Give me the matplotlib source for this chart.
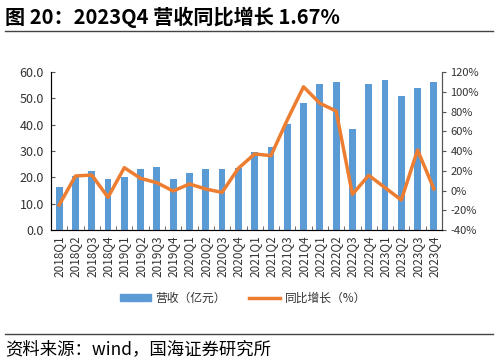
import numpy as np
import matplotlib
matplotlib.use("Agg")
import matplotlib.pyplot as plt
from matplotlib.lines import Line2D
from matplotlib.patches import Patch

plt.rcParams['font.family'] = ['Noto Sans CJK SC', 'DejaVu Sans']

quarters = ["2018Q1", "2018Q2", "2018Q3", "2018Q4", "2019Q1", "2019Q2", "2019Q3", "2019Q4",
            "2020Q1", "2020Q2", "2020Q3", "2020Q4", "2021Q1", "2021Q2", "2021Q3", "2021Q4",
            "2022Q1", "2022Q2", "2022Q3", "2022Q4", "2023Q1", "2023Q2", "2023Q3", "2023Q4"]
revenue = [16.4, 20.5, 22.4, 19.4, 20.3, 23.0, 23.9, 19.4,
           21.6, 23.3, 23.3, 23.7, 29.6, 31.4, 40.1, 48.1,
           55.4, 56.2, 38.5, 55.4, 57.0, 50.9, 53.9, 56.2]
yoy = [-14.7, 14.7, 15.7, -6.9, 23.1, 12.3, 7.9, -0.5,
       6.6, 1.5, -1.9, 22.5, 37.0, 35.3, 71.4, 105.0,
       88.3, 80.5, -3.9, 15.4, 2.9, -9.6, 41.0, 1.67]

fig = plt.figure(figsize=(4.98, 3.62), dpi=100)
ax = fig.add_axes([0.1024, 0.3646, 0.7852, 0.4365])
x = np.arange(len(quarters))
ax.bar(x, revenue, width=0.42, color="#5B9BD5", zorder=2)
ax.set_xlim(-0.5, len(quarters) - 0.5)
ax.set_ylim(0, 60)
ax.set_yticks(np.arange(0, 61, 10))
ax.set_yticklabels(["%.1f" % v for v in np.arange(0, 61, 10)], fontsize=9, color="#333333")
ax.set_xticks(x)
ax.set_xticklabels(quarters, rotation=90, fontsize=8.5, color="#333333")
ax.set_xticks(np.arange(-0.5, len(quarters), 1), minor=True)
ax.tick_params(axis="x", which="major", length=0, pad=4)
ax.tick_params(axis="x", which="minor", length=3, direction="in", color="#555555")
ax.tick_params(axis="y", length=3, direction="in", color="#555555", pad=5)
ax.spines["top"].set_visible(False)
for s in ["left", "bottom", "right"]:
    ax.spines[s].set_color("#555555")

ax2 = ax.twinx()
ax2.plot(x, yoy, color="#ED7D31", linewidth=2.5, zorder=3)
ax2.set_ylim(-40, 120)
ax2.set_yticks(np.arange(-40, 121, 20))
ax2.set_yticklabels(["%d%%" % v for v in np.arange(-40, 121, 20)], fontsize=8, color="#333333")
ax2.tick_params(axis="y", length=3, direction="out", color="#555555", pad=3)
ax2.spines["top"].set_visible(False)
ax2.spines["right"].set_color("#555555")

handles = [Patch(color="#5B9BD5"), Line2D([0], [0], color="#ED7D31", linewidth=2.5)]
fig.legend(handles, ["营收（亿元）", "同比增长（%）"], loc="center", bbox_to_anchor=(0.488, 0.177),
           ncol=2, frameon=False, fontsize=8.5, handlelength=2.6, handleheight=0.5,
           columnspacing=2.0, handletextpad=0.4, labelcolor="#333333")

fig.text(0.01, 0.952, "图 20：2023Q4 营收同比增长 1.67%", fontsize=14.5, fontweight="bold",
         va="center", ha="left")
fig.add_artist(Line2D([0.01, 0.99], [0.915, 0.915], color="#444444", linewidth=1))
fig.add_artist(Line2D([0.01, 0.99], [0.077, 0.077], color="#444444", linewidth=1))
fig.text(0.01, 0.035, "资料来源：wind，国海证券研究所", fontsize=12.5, va="center", ha="left")

fig.savefig("out.png", dpi=100)
